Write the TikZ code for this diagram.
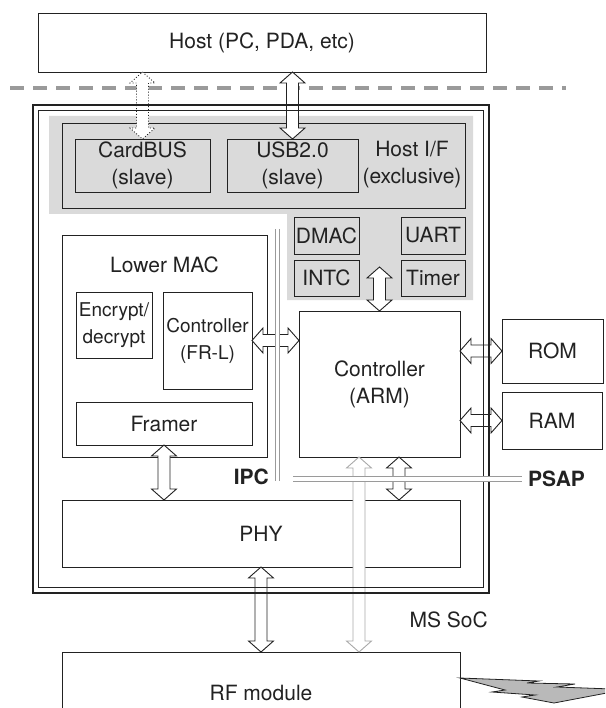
\documentclass[tikz,border=0pt]{standalone}
\usepackage{fontspec}
\setmainfont{TeX Gyre Heros}
\usetikzlibrary{calc,positioning}
\definecolor{socink}{HTML}{222222}
\definecolor{socgray}{HTML}{DADADA}
\definecolor{busgray}{HTML}{9A9A9A}
\tikzset{
  box/.style={draw=socink, fill=white, line width=0.9pt, inner sep=0pt, outer sep=0pt,
    anchor=north west, align=center, text=socink, font=\fontsize{21}{27}\selectfont},
  periph/.style={box, fill=socgray},
  smallbox/.style={box, font=\fontsize{19}{27}\selectfont},
  lbl/.style={inner sep=0pt, align=center, text=socink, font=\fontsize{21}{27}\selectfont},
  buslbl/.style={lbl, font=\fontsize{21}{24}\selectfont\bfseries},
  blockarrow/.style={draw=socink, fill=white, line width=0.9pt},
  busline/.style={draw=busgray, line width=0.9pt, double=white, double distance=3.6pt},
}
% hollow double-headed arrows, top -> bottom and left -> right
\newcommand{\vblockarrow}[3][]{%
  \draw[blockarrow,#1] let \p1=(#2), \p2=(#3) in
    (\x1,\y1) -- (\x1+12.5pt,\y1-11pt) -- (\x1+6pt,\y1-11pt) -- (\x1+6pt,\y2+11pt)
    -- (\x1+12.5pt,\y2+11pt) -- (\x1,\y2) -- (\x1-12.5pt,\y2+11pt) -- (\x1-6pt,\y2+11pt)
    -- (\x1-6pt,\y1-11pt) -- (\x1-12.5pt,\y1-11pt) -- cycle;}
\newcommand{\hblockarrow}[3][]{%
  \draw[blockarrow,#1] let \p1=(#2), \p2=(#3) in
    (\x1,\y1) -- (\x1+11pt,\y1+12.5pt) -- (\x1+11pt,\y1+6pt) -- (\x2-11pt,\y1+6pt)
    -- (\x2-11pt,\y1+12.5pt) -- (\x2,\y1) -- (\x2-11pt,\y1-12.5pt) -- (\x2-11pt,\y1-6pt)
    -- (\x1+11pt,\y1-6pt) -- (\x1+11pt,\y1-12.5pt) -- cycle;}

\begin{document}
\begin{tikzpicture}[x=1pt, y=-1pt]
\useasboundingbox (0,0) rectangle (605,708);
\clip (0,0) rectangle (605,708);

% ---- shaded host interface area --------------------------------------
\fill[socgray] (49,116) -- (473,116) -- (473,300) -- (287,300) -- (287,214) -- (49,214) -- cycle;

% ---- host ------------------------------------------------------------
\node[box, minimum width=448pt, minimum height=59pt] (host) at (38,13) {Host (PC, PDA, etc)};
\draw[busgray, line width=3.5pt, dash pattern=on 14pt off 9pt] (10,88) -- (566,88);

% ---- host I/F and peripherals ----------------------------------------
\node[periph, minimum width=403pt, minimum height=85pt] (hostif) at (62,123) {};
\node[periph, minimum width=135pt, minimum height=53pt] (cardbus) at (75,139) {CardBUS\\(slave)};
\node[periph, minimum width=131pt, minimum height=53pt] (usb) at (227,139) {USB2.0\\(slave)};
\node[lbl] (hostiflbl) at (412,165) {Host I/F\\(exclusive)};
\node[periph, minimum width=65pt, minimum height=37pt] (dmac) at (294,217) {DMAC};
\node[periph, minimum width=65pt, minimum height=36pt] (intc) at (294,260) {INTC};
\node[periph, minimum width=64pt, minimum height=37pt] (uart) at (401,217) {UART};
\node[periph, minimum width=64pt, minimum height=36pt] (timer) at (401,260) {Timer};

% ---- lower MAC -------------------------------------------------------
\node[box, minimum width=205pt, minimum height=222pt] (lmac) at (62,235) {};
\node[lbl, below=22pt of lmac.north] (lmaclbl) {Lower MAC};
\node[smallbox, minimum width=76pt, minimum height=66pt] (encrypt) at (76,292) {Encrypt/\\decrypt};
\node[smallbox, minimum width=89pt, minimum height=97pt] (frl) at (163,292) {Controller\\(FR-L)};
\node[box, minimum width=176pt, minimum height=43pt] (framer) at (76,402) {Framer};

% ---- controller, memories, PHY, RF -----------------------------------
\node[box, minimum width=161pt, minimum height=146pt] (arm) at (299,311) {Controller\\(ARM)};
\node[box, minimum width=101pt, minimum height=64pt] (rom) at (502,319) {ROM};
\node[box, minimum width=100pt, minimum height=57pt] (ram) at (502,392) {RAM};
\node[box, minimum width=398pt, minimum height=67pt] (phy) at (62,500) {PHY};
\node[box, minimum width=398pt, minimum height=82pt] (rf) at (62,652) {RF module};

% ---- links -----------------------------------------------------------
\vblockarrow[dotted]{host.south -| cardbus.north}{cardbus.north}
\vblockarrow{host.south -| usb.north}{usb.north}
\coordinate (periphbus) at (379.5,267);
\vblockarrow{periphbus}{arm.north}
\hblockarrow{frl.east}{frl.east -| arm.west}
\hblockarrow{rom.west -| arm.east}{rom.west}
\hblockarrow{ram.west -| arm.east}{ram.west}
\vblockarrow{framer.south}{framer.south |- phy.north}
\coordinate (armphy) at ([xshift=19.5pt]arm.south);
\vblockarrow{armphy}{armphy |- phy.north}
\vblockarrow{phy.south}{rf.north}
\coordinate (armrf) at ([xshift=-20.5pt]arm.south);
\vblockarrow[draw=busgray!85]{armrf}{armrf |- rf.north}

% ---- SoC frame and buses ---------------------------------------------
\draw[socink, line width=2.6pt] (33,105) rectangle (489,593);
\draw[socink, line width=0.9pt] (38.5,110.5) rectangle (483.5,587.5);
\node[lbl, anchor=east] (soclbl) at (488,620) {MS SoC};

\coordinate (ipctop) at (277.5,229);
\coordinate (ipcbot) at (277.5,481);
\coordinate (psapl) at (293,479);
\coordinate (psapr) at (522,479);
\draw[busline] (ipctop) -- (ipcbot);
\draw[busline] (psapl) -- (psapr);
\node[buslbl, anchor=east] (ipclbl) at (269,477) {IPC};
\node[buslbl, right=6pt of psapr] (psaplbl) {PSAP};

% ---- radio link ------------------------------------------------------
\coordinate (bolt) at ([yshift=-26pt]rf.north east);
\draw[socink, fill=gray!55, line width=0.8pt] (bolt) -- ++(79,3) -- ++(-12,2) -- ++(48,1)
  -- ++(-18,3) -- ++(55,2) -- ++(0,3) -- ++(-58,11) -- ++(-32,-6) -- ++(13,-2)
  -- ++(-43,-3) -- ++(13,-2) -- cycle;

\end{tikzpicture}
\end{document}
